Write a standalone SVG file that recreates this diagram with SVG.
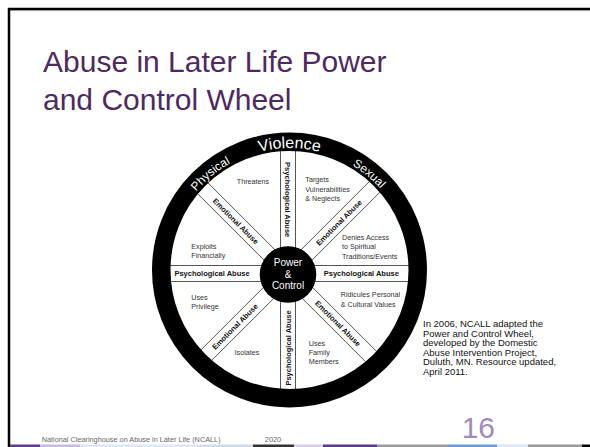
<svg xmlns="http://www.w3.org/2000/svg" xmlns:xlink="http://www.w3.org/1999/xlink" width="590" height="447" viewBox="0 0 590 447">
<style>
.t{font-family:"Liberation Sans",Arial,sans-serif}
.lbl{font-family:"Liberation Sans",Arial,sans-serif;font-size:7.2px;fill:#333}
.b{font-family:"Liberation Sans",Arial,sans-serif;font-size:7.5px;font-weight:bold;fill:#111;text-anchor:middle}
.ring{font-family:"Liberation Sans",Arial,sans-serif;fill:#fff;text-anchor:middle}
.note{font-family:"Liberation Sans",Arial,sans-serif;font-size:9.5px;fill:#111}
.sp{stroke:#555;stroke-width:1;fill:none}
</style>
<defs>
<path id="arc" d="M167.5 270 A122 122 0 0 1 411.5 270"/>
</defs>
<rect width="590" height="447" fill="#fff"/>
<g id="frame">
<line x1="8" y1="9" x2="590" y2="9" stroke="#000" stroke-width="2.5"/>
<line x1="8" y1="10.6" x2="590" y2="10.6" stroke="#888" stroke-width="0.7"/>
<line x1="9" y1="8" x2="9" y2="447" stroke="#000" stroke-width="2.5"/>
</g>
<g id="title">
<text class="t" x="43" y="72" font-size="30" fill="#4e2a5e">Abuse in Later Life Power</text>
<text class="t" x="43" y="110" font-size="30" fill="#4e2a5e">and Control Wheel</text>
</g>
<g id="connectors">
<line class="sp" x1="280.5" y1="253.5" x2="280.5" y2="148.5"/>
<line class="sp" x1="295.5" y1="253.5" x2="295.5" y2="148.5"/>
<line class="sp" x1="280.5" y1="293.5" x2="280.5" y2="398.5"/>
<line class="sp" x1="295.5" y1="293.5" x2="295.5" y2="398.5"/>
<line class="sp" x1="268" y1="265.5" x2="163" y2="265.5"/>
<line class="sp" x1="268" y1="281.5" x2="163" y2="281.5"/>
<line class="sp" x1="308" y1="265.5" x2="413" y2="265.5"/>
<line class="sp" x1="308" y1="281.5" x2="413" y2="281.5"/>
<line class="sp" x1="279.16" y1="254.06" x2="204.91" y2="179.81"/>
<line class="sp" x1="268.56" y1="264.66" x2="194.31" y2="190.41"/>
<line class="sp" x1="307.44" y1="264.66" x2="381.69" y2="190.41"/>
<line class="sp" x1="296.84" y1="254.06" x2="371.09" y2="179.81"/>
<line class="sp" x1="296.84" y1="292.94" x2="371.09" y2="367.19"/>
<line class="sp" x1="307.44" y1="282.34" x2="381.69" y2="356.59"/>
<line class="sp" x1="279.16" y1="292.94" x2="204.91" y2="367.19"/>
<line class="sp" x1="268.56" y1="282.34" x2="194.31" y2="356.59"/>
</g>
<g id="outer-ring">
<circle cx="289.5" cy="270" r="128.25" fill="none" stroke="#000" stroke-width="18.5"/>
<text class="ring" font-size="12"><textPath xlink:href="#arc" href="#arc" startOffset="28.1%">Physical</textPath></text>
<text class="ring" font-size="16"><textPath xlink:href="#arc" href="#arc" startOffset="50%">Violence</textPath></text>
<text class="ring" font-size="12"><textPath xlink:href="#arc" href="#arc" startOffset="72%">Sexual</textPath></text>
</g>
<g id="hub">
<circle cx="288" cy="274.5" r="28.3" fill="#000"/>
<text class="ring" font-size="10" x="288" y="266.3">Power</text>
<text class="ring" font-size="10" x="288" y="277.6">&amp;</text>
<text class="ring" font-size="10" x="288" y="288.9">Control</text>
</g>
<g id="spoke-labels">
<text class="b" transform="translate(288,199.7) rotate(90)" y="2.7">Psychological Abuse</text>
<text class="b" transform="translate(288.5,348) rotate(-90)" y="2.7">Psychological Abuse</text>
<text class="b" x="212" y="276.2">Psychological Abuse</text>
<text class="b" x="361.3" y="276.2">Psychological Abuse</text>
<text class="b" transform="translate(235.7,221.2) rotate(45)" y="2.7">Emotional Abuse</text>
<text class="b" transform="translate(338.9,222.6) rotate(-45)" y="2.7">Emotional Abuse</text>
<text class="b" transform="translate(337.9,323.4) rotate(45)" y="2.7">Emotional Abuse</text>
<text class="b" transform="translate(235,326.5) rotate(-45)" y="2.7">Emotional Abuse</text>
</g>
<g id="sec-threatens"><text class="lbl" x="253" y="183.9" text-anchor="middle">Threatens</text></g>
<g id="sec-targets"><text class="lbl" x="305.3" y="182.3">Targets</text><text class="lbl" x="305.3" y="191.6">Vulnerabilities</text><text class="lbl" x="305.3" y="200.9">&amp; Neglects</text></g>
<g id="sec-denies"><text class="lbl" x="342" y="239.8">Denies Access</text><text class="lbl" x="342" y="249.2">to Spiritual</text><text class="lbl" x="342" y="258.5">Traditions/Events</text></g>
<g id="sec-exploits"><text class="lbl" x="191.3" y="248.8">Exploits</text><text class="lbl" x="191.3" y="258.2">Financially</text></g>
<g id="sec-privilege"><text class="lbl" x="191.3" y="299.5">Uses</text><text class="lbl" x="191.3" y="308.8">Privilege</text></g>
<g id="sec-ridicules"><text class="lbl" x="340.7" y="296.5">Ridicules Personal</text><text class="lbl" x="340.7" y="306.5">&amp; Cultural Values</text></g>
<g id="sec-isolates"><text class="lbl" x="247" y="354.5" text-anchor="middle">Isolates</text></g>
<g id="sec-family"><text class="lbl" x="308.7" y="345.5">Uses</text><text class="lbl" x="308.7" y="354.8">Family</text><text class="lbl" x="308.7" y="364.2">Members</text></g>
<g id="note">
<text class="note" x="423" y="327">In 2006, NCALL adapted the</text>
<text class="note" x="423" y="336.6">Power and Control Wheel,</text>
<text class="note" x="423" y="346.2">developed by the Domestic</text>
<text class="note" x="423" y="355.8">Abuse Intervention Project,</text>
<text class="note" x="423" y="365.4">Duluth, MN. Resource updated,</text>
<text class="note" x="423" y="375">April 2011.</text>
</g>
<g id="footer">
<text class="t" font-size="7.3" fill="#666" x="41.7" y="442">National Clearinghouse on Abuse in Later Life (NCALL)</text>
<text class="t" font-size="7.4" fill="#666" x="273" y="442" text-anchor="middle">2020</text>
<text class="t" font-size="30" fill="#a28cb6" x="495" y="438" text-anchor="end">16</text>
</g>
<g id="bottom-strip">
<rect x="10" y="444.5" width="30" height="2.5" fill="#5c3d8f"/>
<rect x="40" y="444.5" width="40" height="2.5" fill="#c7b9df"/>
<rect x="80" y="444.5" width="120" height="2.5" fill="#dde8f3"/>
<rect x="200" y="444.5" width="53" height="2.5" fill="#cfdbe6"/>
<rect x="253" y="444.5" width="41" height="2.5" fill="#333"/>
<rect x="294" y="444.5" width="29" height="2.5" fill="#d7cde8"/>
<rect x="323" y="444.5" width="54" height="2.5" fill="#5a3a8a"/>
<rect x="377" y="444.5" width="71" height="2.5" fill="#9a9a9a"/>
<rect x="448" y="444.5" width="49" height="2.5" fill="#6a9bd8"/>
<rect x="497" y="444.5" width="31" height="2.5" fill="#dbe7f5"/>
<rect x="528" y="444.5" width="54" height="2.5" fill="#999"/>
<rect x="582" y="444.5" width="8" height="2.5" fill="#000"/>
</g>
</svg>
